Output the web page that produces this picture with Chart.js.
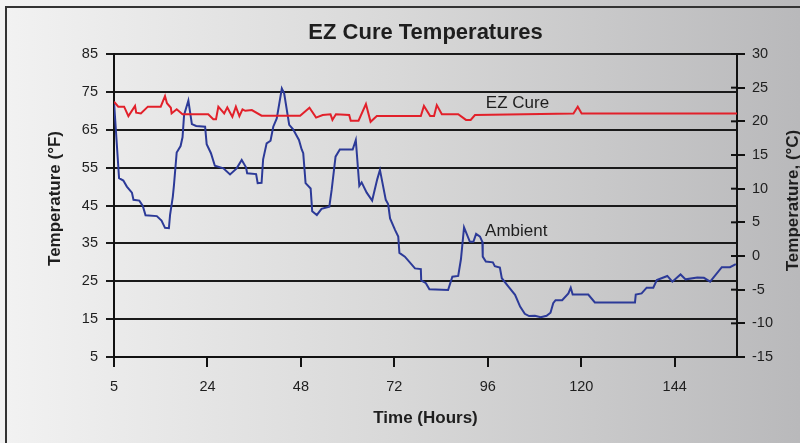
<!DOCTYPE html>
<html><head><meta charset="utf-8">
<script src="https://cdn.jsdelivr.net/npm/chart.js@4.4.1/dist/chart.umd.min.js"></script>
<style>html,body{margin:0;padding:0;background:#e0e0e0;overflow:hidden}#wrap{width:800px;height:443px}</style>
</head><body><div id="wrap"><canvas id="c" width="800" height="443"></canvas></div>
<script>
const chartTitle = 'EZ Cure Temperatures';
const xTitle = 'Time (Hours)';
const yLeftTitle = 'Temperature (°F)';
const yRightTitle = 'Temperature, (°C)';
const seriesNames = ['EZ Cure', 'Ambient'];

const xTickPositions = [0, 24, 48, 72, 96, 120, 144];
const xTickLabels = ['5', '24', '48', '72', '96', '120', '144'];
const leftTicks = [5, 15, 25, 35, 45, 55, 65, 75, 85];
const rightTicks = [-15, -10, -5, 0, 5, 10, 15, 20, 25, 30];

const ambientTime = [0,1.3,2.4,3.3,4.6,5.0,6.5,7.4,8.1,11.0,12.2,13.1,14.1,14.4,15.1,15.4,16.1,17.1,17.6,18.0,19.1,20.0,21.1,23.4,23.8,24.9,25.9,28.1,29.8,31.5,32.8,33.9,34.2,36.5,36.9,37.9,38.3,39.2,40.2,40.9,41.8,43.1,43.7,45.0,46.0,47.5,48.2,48.6,49.2,50.5,50.9,52.1,53.3,55.3,55.9,56.9,58.0,61.3,62.1,63.0,63.6,64.9,66.3,67.6,68.3,69.8,70.4,70.9,72.2,73.0,73.3,74.7,77.3,78.8,78.9,80.1,81.0,85.8,86.9,88.4,89.1,89.9,91.4,92.3,93.0,94.0,94.6,94.7,95.5,97.3,97.8,99.1,99.6,101.3,103.0,104.3,105.5,106.6,108.1,109.6,111.1,112.1,112.8,113.4,115.1,116.7,117.3,117.8,121.8,123.5,133.8,134.0,135.5,136.8,138.5,139.4,140.6,142.1,143.4,145.5,146.8,149.8,151.5,153.1,156.1,158.2,159.7];
const ambientF = [72.4,52.2,51.6,50.0,48.4,46.5,46.3,44.9,42.4,42.2,41.0,39.1,39.0,42.5,47.3,50.4,59.0,60.7,63.0,68.9,72.7,66.5,66.0,65.8,61.2,58.8,55.5,54.8,53.2,54.8,57.0,55.1,53.5,53.3,50.9,51.0,57.2,61.4,62.1,65.8,68.0,75.9,74.6,66.3,65.1,62.3,59.8,58.8,50.9,49.5,43.5,42.5,44.1,44.7,49.1,57.9,59.8,59.8,62.3,50.2,51.1,48.4,46.3,51.9,54.4,46.5,45.4,41.6,38.5,36.8,32.5,31.5,28.4,28.2,25.2,24.5,22.9,22.7,26.2,26.4,30.8,39.2,35.4,35.4,37.5,36.8,35.4,31.5,30.2,30.0,29.0,28.6,25.8,23.6,21.4,18.3,16.4,15.8,15.9,15.5,15.9,16.7,19.2,20.0,20.0,21.8,23.3,21.5,21.5,19.4,19.4,21.5,21.8,23.3,23.3,25.3,25.8,26.4,24.9,26.8,25.5,26.0,25.9,24.9,28.7,28.7,29.5];

const cureTime = [0,1.1,2.6,3.7,5.4,5.7,6.9,8.7,12.0,13.1,13.6,14.6,14.8,16.1,17.6,24.2,25.5,26.2,26.8,28.3,29.1,30.4,31.3,32.2,33.0,33.7,35.4,37.9,47.8,50.2,51.9,53.6,55.6,56.1,57.0,60.4,60.8,62.8,64.7,65.9,67.5,78.8,79.6,81.2,82.2,82.9,84.2,88.4,90.4,91.6,92.7,118.0,119.1,120.1,160];
const cureF = [72.4,71.1,71.1,68.6,71.3,69.5,69.3,71.1,71.1,73.9,72.0,70.8,69.3,70.4,69.1,69.1,67.8,67.8,71.1,69.3,70.9,68.4,71.1,68.6,70.4,70.0,70.2,68.7,68.7,70.8,68.2,68.9,69.1,67.6,69.1,68.9,67.4,67.4,71.8,67.1,68.6,68.6,71.3,68.6,68.6,71.5,69.1,69.1,67.6,67.6,68.9,69.3,71.1,69.3,69.3];

const FONT = "'Liberation Sans', Arial, sans-serif";
const INK = '#1e1e1e';

const decor = {
  id: 'decor',
  beforeDraw(chart) {
    const ctx = chart.ctx, W = chart.width, H = chart.height;
    ctx.save();
    const g = ctx.createLinearGradient(0, 0, W, 0);
    g.addColorStop(0, '#f2f2f2');
    g.addColorStop(0.5, '#d8d8d8');
    g.addColorStop(1, '#b9b9bb');
    ctx.fillStyle = g;
    ctx.fillRect(0, 0, W, H);
    ctx.strokeStyle = '#333';
    ctx.lineWidth = 2;
    ctx.beginPath();
    ctx.moveTo(6, H);
    ctx.lineTo(6, 7);
    ctx.lineTo(W, 7);
    ctx.stroke();
    ctx.restore();
  },
  afterDraw(chart) {
    const ctx = chart.ctx, a = chart.chartArea;
    const xs = chart.scales.x, yF = chart.scales.yF, yC = chart.scales.yC;
    ctx.save();
    ctx.strokeStyle = '#111';
    ctx.lineWidth = 2;
    yC.ticks.forEach(t => {
      const y = yC.getPixelForValue(t.value);
      ctx.beginPath();
      ctx.moveTo(a.right - 6, y);
      ctx.lineTo(a.right, y);
      ctx.stroke();
    });
    ctx.fillStyle = INK;
    ctx.textAlign = 'center';
    ctx.textBaseline = 'middle';
    ctx.font = 'bold 22px ' + FONT;
    ctx.fillText(chartTitle, (a.left + a.right) / 2, 33);
    ctx.font = 'bold 17px ' + FONT;
    ctx.fillText(xTitle, (a.left + a.right) / 2, 418);
    ctx.save();
    ctx.translate(55, (a.top + a.bottom) / 2 - 7);
    ctx.rotate(-Math.PI / 2);
    ctx.fillText(yLeftTitle, 0, 0);
    ctx.restore();
    ctx.save();
    ctx.translate(793, (a.top + a.bottom) / 2 - 5);
    ctx.rotate(-Math.PI / 2);
    ctx.fillText(yRightTitle, 0, 0);
    ctx.restore();
    ctx.font = '17px ' + FONT;
    ctx.textAlign = 'left';
    const opts = chart.options.plugins.decor;
    opts.labels.forEach((lb, i) => {
      ctx.fillText(seriesNames[i], xs.getPixelForValue(lb.x), yF.getPixelForValue(lb.y));
    });
    ctx.restore();
  }
};

const tickFont = { family: FONT, size: 14.5 };

new Chart(document.getElementById('c'), {
  type: 'line',
  data: {
    datasets: [
      {
        label: seriesNames[0],
        data: cureTime.map((t, i) => ({ x: t, y: cureF[i] })),
        borderColor: '#e2202a',
        borderWidth: 2,
        pointRadius: 0,
        tension: 0,
        yAxisID: 'yF'
      },
      {
        label: seriesNames[1],
        data: ambientTime.map((t, i) => ({ x: t, y: ambientF[i] })),
        borderColor: '#2c3a98',
        borderWidth: 2,
        pointRadius: 0,
        tension: 0,
        yAxisID: 'yF'
      }
    ]
  },
  options: {
    responsive: false,
    animation: false,
    devicePixelRatio: 1,
    events: [],
    layout: { padding: { top: 54, left: 0, right: 0, bottom: 0 } },
    plugins: {
      legend: { display: false },
      tooltip: { enabled: false },
      title: { display: false },
      decor: { labels: [{ x: 95.5, y: 72.1 }, { x: 95.3, y: 38.1 }] }
    },
    scales: {
      x: {
        type: 'linear',
        position: 'bottom',
        min: 0,
        max: 160,
        afterFit: s => { s.height = 86; },
        afterBuildTicks: s => { s.ticks = xTickPositions.map(v => ({ value: v })); },
        ticks: {
          callback: (v, i) => xTickLabels[i],
          font: tickFont,
          color: INK,
          padding: 11,
          maxRotation: 0,
          autoSkip: false
        },
        grid: { drawOnChartArea: false, drawTicks: true, tickLength: 10, color: '#111', lineWidth: 2 },
        border: { display: true, color: '#111', width: 2 }
      },
      yF: {
        type: 'linear',
        position: 'left',
        min: 5,
        max: 85,
        afterFit: s => { s.width = 114; },
        afterBuildTicks: s => { s.ticks = leftTicks.map(v => ({ value: v })); },
        ticks: { font: tickFont, color: INK, padding: 8 },
        grid: { drawOnChartArea: true, drawTicks: true, tickLength: 8, color: '#1a1a1a', lineWidth: 2 },
        border: { display: true, color: '#111', width: 2 }
      },
      yC: {
        type: 'linear',
        position: 'right',
        min: -15,
        max: 30,
        afterFit: s => { s.width = 63; },
        afterBuildTicks: s => { s.ticks = rightTicks.map(v => ({ value: v })); },
        ticks: { font: tickFont, color: INK, padding: 7 },
        grid: { drawOnChartArea: false, drawTicks: true, tickLength: 8, color: '#111', lineWidth: 2 },
        border: { display: true, color: '#111', width: 2 }
      }
    }
  },
  plugins: [decor]
});
</script>
</body></html>
